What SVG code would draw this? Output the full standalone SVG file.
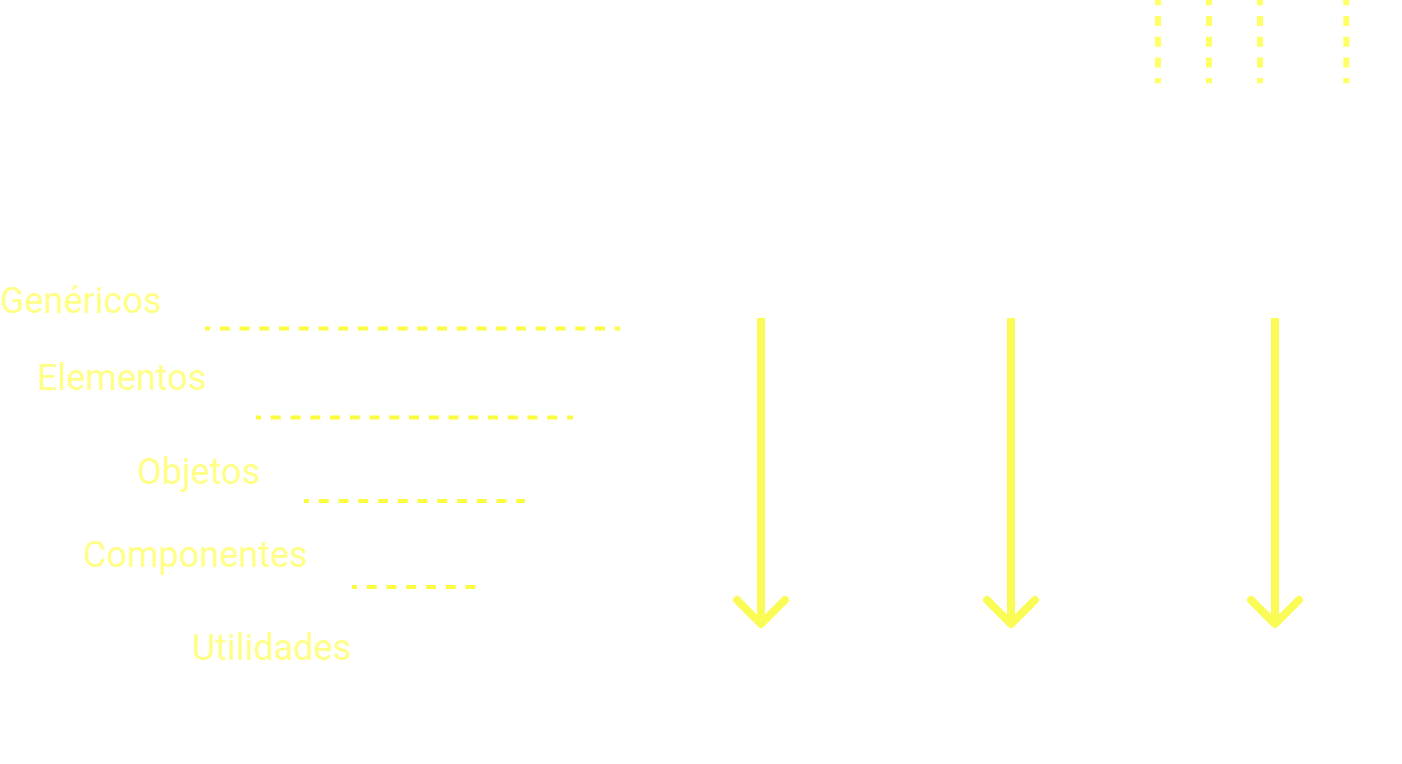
<svg xmlns="http://www.w3.org/2000/svg" width="1402" height="764" viewBox="0 0 1402 764">
<style>
.lbl{font-family:Roboto,"Liberation Sans",sans-serif;font-size:36px;fill:#ffff88}
.hd{stroke:#fbfb40;stroke-width:4;fill:none;stroke-dasharray:10 9.75;stroke-dashoffset:5}
.vd{stroke:#ffff66;stroke-width:6;fill:none;stroke-dasharray:10 10.7}
.arr{stroke:#fbfb55;stroke-width:8;fill:none;stroke-linejoin:round}
.shaft{stroke-linecap:butt}
.head{stroke-linecap:round}
</style>
<rect width="1402" height="764" fill="#ffffff"/>
<g id="top-dashes">
<line class="vd" x1="1158" y1="-4.7" x2="1158" y2="83.3"/>
<line class="vd" x1="1209" y1="-4.7" x2="1209" y2="83.3"/>
<line class="vd" x1="1260" y1="-4.7" x2="1260" y2="83.3"/>
<line class="vd" x1="1346.3" y1="-4.7" x2="1346.3" y2="83.3"/>
</g>
<g id="generico"><text class="lbl" x="0" y="313">Genéricos</text></g>
<g id="elementos"><text class="lbl" x="37" y="390">Elementos</text></g>
<g id="objetos"><text class="lbl" x="137" y="484">Objetos</text></g>
<g id="componentes"><text class="lbl" x="83" y="567">Componentes</text></g>
<g id="utilidades"><text class="lbl" x="192" y="660">Utilidades</text></g>
<g id="connectors">
<line class="hd" x1="205" y1="328.5" x2="620" y2="328.5"/>
<line class="hd" x1="256" y1="417.5" x2="573" y2="417.5"/>
<line class="hd" x1="304" y1="501" x2="525" y2="501"/>
<line class="hd" x1="352" y1="587" x2="476" y2="587"/>
</g>
<g id="arrows">
<path class="arr shaft" d="M761 318 V624"/>
<path class="arr head" d="M737 600 L761 624 L785 600"/>
<path class="arr shaft" d="M1011 318 V624"/>
<path class="arr head" d="M987 600 L1011 624 L1035 600"/>
<path class="arr shaft" d="M1275 318 V624"/>
<path class="arr head" d="M1251 600 L1275 624 L1299 600"/>
</g>
</svg>
